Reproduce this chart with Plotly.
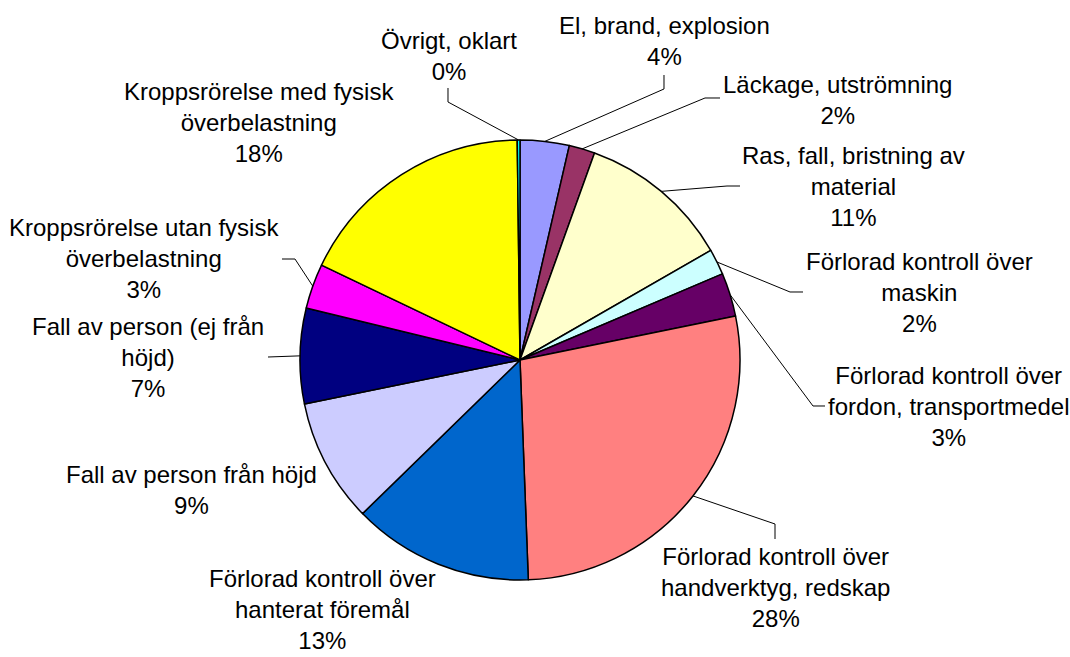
import math
import plotly.graph_objects as go

W, H = 1070, 657

# data, clockwise from 12 o'clock
categories = [
    'El, brand, explosion',
    'Läckage, utströmning',
    'Ras, fall, bristning av<br>material',
    'Förlorad kontroll över<br>maskin',
    'Förlorad kontroll över<br>fordon, transportmedel',
    'Förlorad kontroll över<br>handverktyg, redskap',
    'Förlorad kontroll över<br>hanterat föremål',
    'Fall av person från höjd',
    'Fall av person (ej från<br>höjd)',
    'Kroppsrörelse utan fysisk<br>överbelastning',
    'Kroppsrörelse med fysisk<br>överbelastning',
    'Övrigt, oklart',
]
values = [3.6, 1.9, 11.2, 1.9, 3.2, 27.6, 13.3, 9.1, 7.0, 3.3, 17.7, 0.2]
colors = ['#9999FF', '#993366', '#FFFFCC', '#CCFFFF', '#660066', '#FF8080',
          '#0066CC', '#CCCCFF', '#000080', '#FF00FF', '#FFFF00', '#00FFFF']

# pie centre / radius in pixels
CX, CY, R = 520, 360, 220

# where each label block sits (pixel centre)
label_pos = [(664, 41), (837, 100), (853, 187), (919, 292), (948, 406), (775, 587),
             (322, 609), (192, 490), (148, 357), (144, 259), (259, 123), (449, 56)]
# leader line bends (pixel), None = no line
leaders = [
    [(664, 89), (664, 75)],
    [(705, 98), (720, 98)],
    [(727, 186), (740, 186)],
    [(790, 292), (803, 292)],
    [(813, 406), (825, 406)],
    [(775, 524), (775, 539)],
    None,
    None,
    [(268, 357)],
    [(295, 259), (282, 259)],
    None,
    [(448, 102), (448, 88)],
]


def paper(x, y):
    return x / W, 1 - y / H


fig = go.Figure(go.Pie(
    labels=categories,
    values=values,
    sort=False,
    direction='clockwise',
    rotation=0,
    marker=dict(colors=colors, line=dict(color='black', width=1.5)),
    textinfo='none',
    hoverinfo='label+percent',
    showlegend=False,
    domain=dict(x=[(CX - R) / W, (CX + R) / W], y=[1 - (CY + R) / H, 1 - (CY - R) / H]),
))

total = sum(values)
annotations = []
shapes = []
cum = 0
for i, v in enumerate(values):
    pct = f'{v / total * 100:.0f}%'
    lx, ly = paper(*label_pos[i])
    annotations.append(dict(
        x=lx, y=ly, xref='paper', yref='paper',
        text=f'{categories[i]}<br>{pct}',
        showarrow=False, xanchor='center', yanchor='middle', align='center',
        borderpad=0,
        font=dict(family='Arial, Liberation Sans, sans-serif', size=24, color='black'),
    ))
    a = (cum + v / 2) / total * 2 * math.pi
    cum += v
    if leaders[i] is None:
        continue
    pts = [(CX + R * math.sin(a), CY - R * math.cos(a))] + leaders[i]
    path = 'M ' + ' L '.join('%.5f,%.5f' % paper(x, y) for x, y in pts)
    shapes.append(dict(type='path', xref='paper', yref='paper', path=path,
                       line=dict(color='black', width=1)))

fig.update_layout(
    width=W, height=H,
    margin=dict(l=0, r=0, t=0, b=0),
    paper_bgcolor='white',
    plot_bgcolor='white',
    annotations=annotations,
    shapes=shapes,
)

fig.write_html('out.html', config={'displayModeBar': False},
               post_script="document.body.style.margin='0';")
